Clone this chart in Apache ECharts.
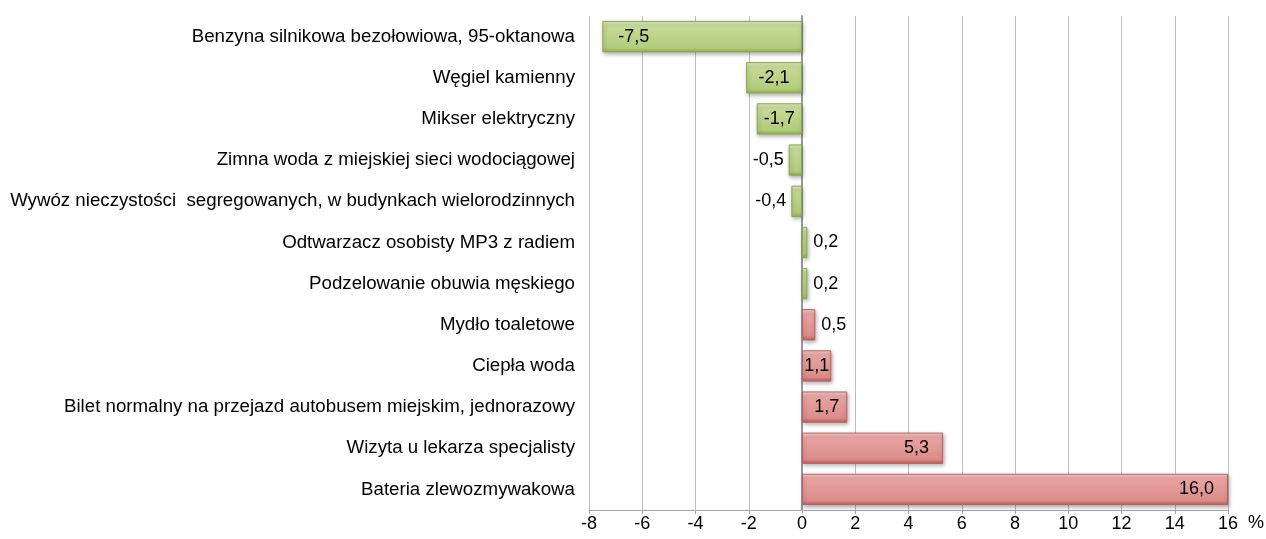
<!DOCTYPE html>
<html>
<head>
<meta charset="utf-8">
<script src="https://cdn.jsdelivr.net/npm/echarts@6/dist/echarts.min.js"></script>
<style>
  html, body { margin: 0; padding: 0; background: #fff; }
  #chart { width: 1266px; height: 539px; }
</style>
</head>
<body>
<div id="chart"></div>
<script>
// categories top to bottom
var categories = [
  'Benzyna silnikowa bezołowiowa, 95-oktanowa',
  'Węgiel kamienny',
  'Mikser elektryczny',
  'Zimna woda z miejskiej sieci wodociągowej',
  'Wywóz nieczystości  segregowanych, w budynkach wielorodzinnych',
  'Odtwarzacz osobisty MP3 z radiem',
  'Podzelowanie obuwia męskiego',
  'Mydło toaletowe',
  'Ciepła woda',
  'Bilet normalny na przejazd autobusem miejskim, jednorazowy',
  'Wizyta u lekarza specjalisty',
  'Bateria zlewozmywakowa'
];
var values = [-7.5, -2.1, -1.7, -0.5, -0.4, 0.2, 0.2, 0.5, 1.1, 1.7, 5.3, 16.0];
var axisTicks = [-8, -6, -4, -2, 0, 2, 4, 6, 8, 10, 12, 14, 16];

var FONT = 'Liberation Sans, Arial';
var FS = 18;

var green = new echarts.graphic.LinearGradient(0, 0, 0, 1, [
  { offset: 0, color: '#e2edc8' },
  { offset: 0.15, color: '#c6da96' },
  { offset: 0.85, color: '#b3cc7c' },
  { offset: 1, color: '#93b24e' }
]);
var red = new echarts.graphic.LinearGradient(0, 0, 0, 1, [
  { offset: 0, color: '#f6d3d2' },
  { offset: 0.15, color: '#e8a5a3' },
  { offset: 0.85, color: '#db8c8a' },
  { offset: 1, color: '#bd5c59' }
]);

function fmt(v) { return v.toFixed(1).replace('.', ','); }

// label placement roughly like the original
function labelFor(v) {
  if (v <= -5) return { position: 'insideLeft', distance: 16 };
  if (v <= -1) return { position: 'inside' };
  if (v < 0) return { position: 'left', distance: 5 };
  if (v < 1) return { position: 'right', distance: 6 };
  if (v < 1.5) return { position: 'inside' };
  if (v < 3) return { position: 'insideRight', distance: 8 };
  return { position: 'insideRight', distance: 14 };
}

var data = values.map(function (v) {
  var isGreen = v < 0.5;
  return {
    value: v,
    itemStyle: {
      color: isGreen ? green : red,
      borderColor: isGreen ? '#8aa94a' : '#b9605d',
      borderWidth: 1,
      shadowColor: 'rgba(0,0,0,0.3)',
      shadowBlur: 4,
      shadowOffsetX: 1,
      shadowOffsetY: 2
    },
    label: labelFor(v)
  };
});

var myChart = echarts.init(document.getElementById('chart'));
var option = {
  animation: false,
  grid: { left: 589, right: 38, top: 16, bottom: 29, outerBoundsMode: 'none' },
  xAxis: {
    type: 'value',
    min: axisTicks[0],
    max: axisTicks[axisTicks.length - 1],
    interval: 2,
    axisLine: { show: true, lineStyle: { color: '#a6a6a6' } },
    axisTick: { show: true, length: 4, lineStyle: { color: '#a6a6a6' } },
    axisLabel: { color: '#000', fontFamily: FONT, fontSize: FS, margin: 5 },
    splitLine: { show: true, lineStyle: { color: '#bfbfbf', width: 1 } }
  },
  yAxis: {
    type: 'category',
    data: categories,
    inverse: true,
    axisLine: { show: true, onZero: true, lineStyle: { color: '#9a9a9a', width: 2 } },
    axisTick: { show: false },
    axisLabel: { color: '#000', fontFamily: FONT, fontSize: 18.7, margin: 14 }
  },
  series: [{
    type: 'bar',
    data: data,
    barCategoryGap: '24%',
    label: {
      show: true,
      color: '#000',
      fontFamily: FONT,
      fontSize: FS,
      formatter: function (p) { return fmt(p.value); }
    }
  }],
  graphic: [{
    type: 'text',
    left: 1248,
    top: 514,
    style: { text: '%', fill: '#000', font: FS + 'px Liberation Sans, Arial' }
  }]
};
option && myChart.setOption(option);
</script>
</body>
</html>
